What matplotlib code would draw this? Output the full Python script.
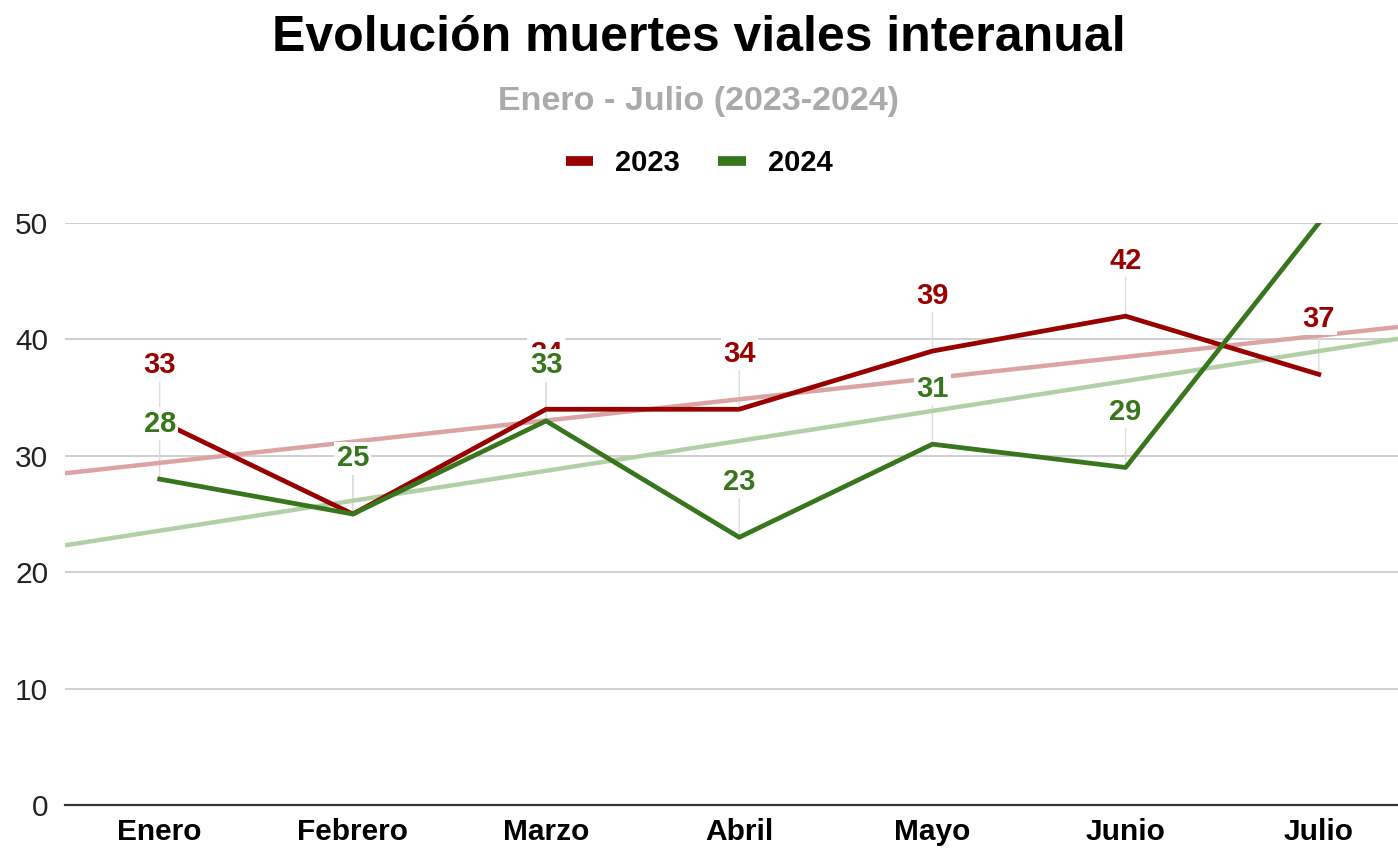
import numpy as np
import matplotlib.pyplot as plt

plt.rcParams['font.family'] = ['Liberation Sans', 'DejaVu Sans']

meses = ['Enero', 'Febrero', 'Marzo', 'Abril', 'Mayo', 'Junio', 'Julio']
muertes_2023 = [33, 25, 34, 34, 39, 42, 37]
muertes_2024 = [28, 25, 33, 23, 31, 29, 50]

rojo = '#990000'
verde = '#38761d'

fig = plt.figure(figsize=(13.98, 8.49), dpi=100)
ax = fig.add_axes([0.0465, 0.0518, 0.9535, 0.6855])

x = np.arange(len(meses))
ax.set_xlim(-0.49, 6.41)
ax.set_ylim(0, 50)

# tendencias lineales
xt = np.array(ax.get_xlim())
for serie, color in [(muertes_2023, '#dba3a3'), (muertes_2024, '#b2d0a8')]:
    m, b = np.polyfit(x, serie, 1)
    ax.plot(xt, m * xt + b, color=color, lw=3.2, zorder=2, solid_capstyle='butt')

ax.plot(x, muertes_2023, color=rojo, lw=3.4, zorder=3, label='2023')
ax.plot(x, muertes_2024, color=verde, lw=3.4, zorder=3, label='2024')

# etiquetas con linea guia (se recortan al area del grafico)
for serie, color in [(muertes_2023, rojo), (muertes_2024, verde)]:
    for xi, v in zip(x, serie):
        guia = ax.annotate('', xy=(xi, v), xytext=(0, 30), textcoords='offset points',
                           arrowprops=dict(arrowstyle='-', color='#dddddd', lw=1,
                                           shrinkA=0, shrinkB=0), zorder=1)
        guia.arrow_patch.set_clip_box(ax.bbox)
        guia.arrow_patch.set_clip_on(True)
        t = ax.annotate(str(v), xy=(xi, v), xytext=(0, 40), textcoords='offset points',
                        ha='center', va='center', fontsize=21, fontweight='bold', color=color,
                        bbox=dict(boxstyle='square,pad=0.08', fc='white', ec='none'), zorder=5)
        t.set_clip_box(ax.bbox)
        t.set_clip_on(True)

ax.set_yticks([0, 10, 20, 30, 40, 50])
ax.set_xticks(x)
ax.set_xticklabels(meses, fontsize=21.5, fontweight='bold')
ax.tick_params(axis='y', labelsize=21.5, length=0, pad=12, labelcolor='#222222')
ax.tick_params(axis='x', length=0, pad=9)
ax.grid(axis='y', color='#cccccc', lw=1.3)
ax.set_axisbelow(True)
for s in ['top', 'right', 'left']:
    ax.spines[s].set_visible(False)
ax.spines['bottom'].set_color('#333333')
ax.spines['bottom'].set_linewidth(1.6)
ax.spines['bottom'].set_zorder(4)

fig.text(0.5, 0.955, 'Evolución muertes viales interanual', ha='center', va='center',
         fontsize=36, fontweight='bold', color='black')
fig.text(0.5, 0.881, 'Enero - Julio (2023-2024)', ha='center', va='center',
         fontsize=24.5, fontweight='bold', color='#aaaaaa')
leg = fig.legend(loc='center', bbox_to_anchor=(0.5, 0.808), ncol=2, frameon=False,
                 prop={'size': 21, 'weight': 'bold'}, handlelength=0.95, columnspacing=1.3,
                 handletextpad=0.75)
for h in leg.legend_handles:
    h.set_linewidth(7)
    h.set_solid_capstyle('butt')

fig.savefig('out.png', dpi=100)
